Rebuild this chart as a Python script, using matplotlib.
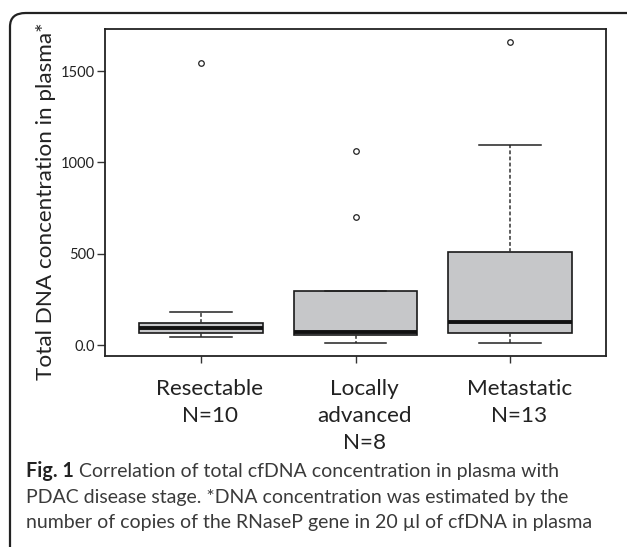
import matplotlib
matplotlib.use("Agg")
import matplotlib.pyplot as plt
from matplotlib.patches import FancyBboxPatch
from matplotlib.transforms import ScaledTranslation

# ---- data ----
categories = ["Resectable\nN=10", "Locally\nadvanced\nN=8", "Metastatic\nN=13"]
q1 = [68, 53, 64]
medians = [93, 70, 124]
q3 = [123, 294, 508]
whisker_low = [44, 9, 11]
whisker_high = [181, 294, 1095]
outliers = [[1544], [1062, 700], [1660]]
ytick_values = [0, 500, 1000, 1500]
ytick_labels = ["0.0", "500", "1000", "1500"]
y_label = "Total DNA concentration in plasma*"
caption_bold = "Fig. 1"
caption_rest = [" Correlation of total cfDNA concentration in plasma with",
                "PDAC disease stage. *DNA concentration was estimated by the",
                "number of copies of the RNaseP gene in 20 \u00b5l of cfDNA in plasma"]

plt.rcParams['font.family'] = ['Lato', 'DejaVu Sans']

W, H = 627, 547
fig = plt.figure(figsize=(W / 100, H / 100), dpi=100)

# rounded frame around figure
frame = FancyBboxPatch((10 / W, -0.1), (W + 40) / W, (H - 13) / H + 0.1,
                       boxstyle="round,pad=0,rounding_size=0.025",
                       transform=fig.transFigure, fill=False,
                       edgecolor="#222222", linewidth=1.6, clip_on=False)
fig.patches.append(frame)

ax = fig.add_axes([105 / W, 1 - 356 / H, (606 - 105) / W, (356 - 29) / H])

stats = []
for i, name in enumerate(categories):
    stats.append(dict(label=name, q1=q1[i], med=medians[i], q3=q3[i],
                      whislo=whisker_low[i], whishi=whisker_high[i],
                      fliers=outliers[i]))

positions = list(range(1, len(categories) + 1))
ax.bxp(stats, positions=positions, widths=0.8, patch_artist=True,
       boxprops=dict(facecolor="#c6c7c9", edgecolor="#1a1a1a", linewidth=1.2),
       medianprops=dict(color="#111111", linewidth=2.8),
       whiskerprops=dict(color="#333333", linewidth=1.1, linestyle=(0, (2.5, 1.5))),
       capprops=dict(color="#222222", linewidth=1.1),
       capwidths=0.4,
       flierprops=dict(marker="o", markersize=4, markerfacecolor="none",
                       markeredgecolor="#222222", markeredgewidth=0.9))

ax.set_xlim(0.38, 3.62)
ax.set_ylim(-60, 1730)
ax.set_yticks(ytick_values)
ax.set_yticklabels(ytick_labels, fontsize=10.5, color="#222222")
ax.set_xticks(positions)
ax.set_xticklabels(categories, fontsize=16.2, color="#222222", linespacing=1.45,
                   va="top")
ax.tick_params(axis="x", length=5, width=1, color="#333333", pad=11.5)
ax.tick_params(axis="y", length=5.5, width=1, color="#333333", pad=2)
for lab in ax.get_xticklabels():
    lab.set_transform(lab.get_transform() + ScaledTranslation(9 / 100, 0, fig.dpi_scale_trans))
for sp in ax.spines.values():
    sp.set_linewidth(1.3)
    sp.set_color("#222222")

fig.text(46 / W, 1 - 201 / H, y_label, rotation=90, ha="center", va="center",
         fontsize=16.2, color="#222222")

# caption
t = fig.text(26 / W, 1 - 477 / H, caption_bold, fontsize=14.2, fontweight="bold",
             color="#222222", ha="left", va="baseline")
fig.canvas.draw()
bb = t.get_window_extent()
cap_kw = dict(fontsize=14, color="#3a3a3a", ha="left", va="baseline")
fig.text(bb.x1 / W, 1 - 477 / H, caption_rest[0], **cap_kw)
fig.text(26 / W, 1 - 503 / H, caption_rest[1], **cap_kw)
fig.text(26 / W, 1 - 528 / H, caption_rest[2], **cap_kw)

fig.savefig("out.png", dpi=100)
